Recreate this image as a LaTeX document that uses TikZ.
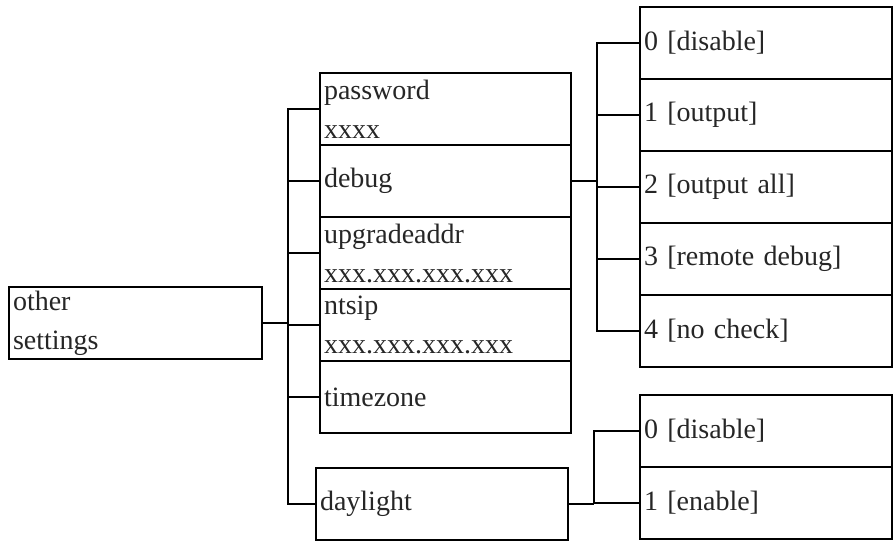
\documentclass[tikz,border=0pt]{standalone}
\usepackage{fontspec}
\setmainfont{Liberation Serif}
\usetikzlibrary{positioning}

\begin{document}
\begin{tikzpicture}[x=1pt,y=-1pt]
  % Settings
  \tikzset{
    box/.style={draw, line width=2.5pt, shape=rectangle, minimum width=251pt, minimum height=72pt, text width=243pt, inner xsep=4pt, outer sep=0pt, align=left, font=\fontsize{28}{39}\selectfont, text=black!85},
    widebox/.style={box, minimum width=252pt, text width=244pt},
    link/.style={line width=2.5pt},
  }
  \useasboundingbox (0,0) rectangle (896,550);

  % Root
  \node[box, minimum width=253pt, text width=245pt, anchor=north west] (other) at (9,287) {other\\settings};

  % Settings column
  \node[box, anchor=north west] (pw) at (320,73) {password\\xxxx};
  \node[box, below=0pt of pw] (debug) {debug};
  \node[box, below=0pt of debug] (upg) {upgradeaddr\\xxx.xxx.xxx.xxx};
  \node[box, below=0pt of upg] (ntsip) {ntsip\\xxx.xxx.xxx.xxx};
  \node[box, below=0pt of ntsip] (tz) {timezone};
  \node[widebox, anchor=north west] (dl) at (316,468) {daylight};

  % Debug levels
  \node[widebox, anchor=north west] (dbg0) at (640,7) {0 [disable]};
  \node[widebox, below=0pt of dbg0] (dbg1) {1 [output]};
  \node[widebox, below=0pt of dbg1] (dbg2) {2 [output all]};
  \node[widebox, below=0pt of dbg2] (dbg3) {3 [remote debug]};
  \node[widebox, below=0pt of dbg3] (dbg4) {4 [no check]};

  % Daylight values
  \node[widebox, anchor=north west] (dlo0) at (640,395) {0 [disable]};
  \node[widebox, below=0pt of dlo0] (dlo1) {1 [enable]};

  % Connectors
  \draw[link] (other.east) -- ++(26,0) coordinate (t0);
  \foreach \n in {pw,debug,upg,ntsip,tz,dl} {\draw[link] (t0) |- (\n.west);}

  \draw[link] (debug.east) -- ++(26,0) coordinate (d0);
  \foreach \i in {0,...,4} {\draw[link] (d0) |- (dbg\i.west);}

  \draw[link] (dl.east) -- ++(26,0) coordinate (l0);
  \foreach \i in {0,1} {\draw[link] (l0) |- (dlo\i.west);}

\end{tikzpicture}
\end{document}
